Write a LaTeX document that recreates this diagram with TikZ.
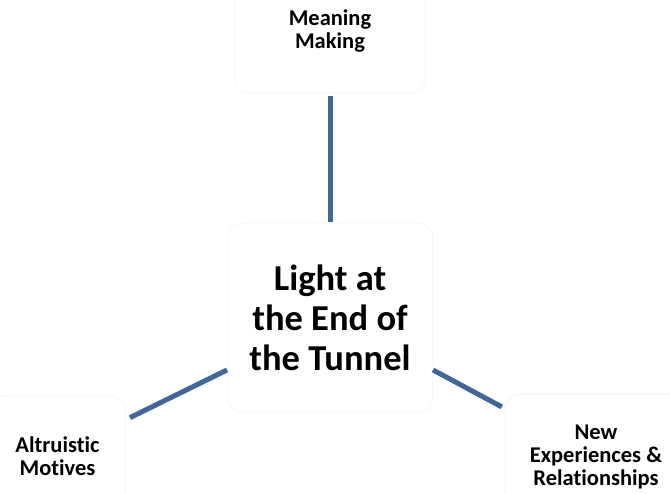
\documentclass[tikz,border=0pt]{standalone}
\usepackage{fontspec}
\setmainfont{Carlito}[Ligatures={NoCommon}]
\definecolor{linkblue}{HTML}{3F6797}
\definecolor{ghost}{HTML}{F6F6F6}
\begin{document}
\begin{tikzpicture}[x=1pt,y=-1pt,
  box/.style={draw=ghost, line width=1pt, rounded corners=14pt, rectangle, inner sep=0pt, align=center, font=\bfseries\fontsize{22.5}{23}\selectfont},
  bigbox/.style={box, font=\bfseries\fontsize{36.5}{40}\selectfont},
  link/.style={draw=linkblue, line width=5pt}]
\useasboundingbox (0,0) rectangle (670,494);
\clip (0,0) rectangle (670,494);
\node[bigbox, minimum width=205pt, minimum height=189pt] (ctr) at (330,317.5) {Light at\\the End of\\the Tunnel};
\node[box, minimum width=190pt, minimum height=124pt] (top) at (330,31) {Meaning\\Making};
\node[box, minimum width=135pt, minimum height=120pt] (lft) at (57.5,456) {Altruistic\\Motives};
\node[box, minimum width=182pt, minimum height=125pt] (rgt) at (596,457) {New\\Experiences \&\\Relationships};
\draw[link, shorten <=3pt] (top.south) -- (ctr.north);
\draw[link, shorten <=5pt] (lft.28.7) -- (ctr.207.6);
\draw[link, shorten <=3pt] (rgt.152.4) -- (ctr.333.3);
\end{tikzpicture}
\end{document}
